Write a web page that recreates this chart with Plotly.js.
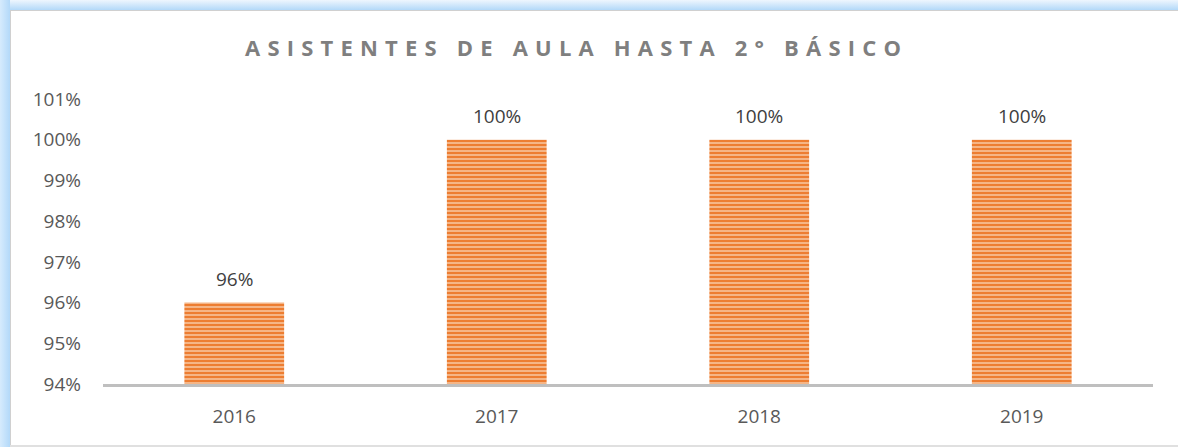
<!DOCTYPE html>
<html><head><meta charset="utf-8">
<script src="https://cdn.plot.ly/plotly-3.0.1.min.js"></script>
<style>
html,body{margin:0;padding:0;background:#fff;}
#wrap{position:relative;width:1178px;height:447px;overflow:hidden;}
#chart{position:absolute;left:0;top:0;width:1178px;height:447px;}
.glowL{position:absolute;left:0;top:0;width:10px;height:447px;background:linear-gradient(to right,#d6ebfd,#b3d9f9);pointer-events:none;}
.glowT{position:absolute;left:0;top:0;width:1178px;height:10px;background:linear-gradient(to bottom,#eef6fe,#b3d9f9);pointer-events:none;}
.lineL{position:absolute;left:10px;top:10px;width:1px;height:437px;background:#d0d0d0;pointer-events:none;}
.lineT{position:absolute;left:10px;top:10px;width:1168px;height:1px;background:#d0d0d0;pointer-events:none;}
.lineB{position:absolute;left:10px;top:445px;width:1168px;height:2px;background:#e0e0e0;pointer-events:none;}
.gtitle{letter-spacing:7.2px;}
</style>
</head><body>
<div id="wrap">
<div id="chart"></div>
<div class="glowT"></div><div class="glowL"></div>
<div class="lineL"></div><div class="lineT"></div><div class="lineB"></div>
</div>
<script>
const categories = ['2016','2017','2018','2019'];
const values = [96, 100, 100, 100];
const labels = ['96%','100%','100%','100%'];
const yTicks = [94,95,96,97,98,99,100,101];
const yTickText = ['94%','95%','96%','97%','98%','99%','100%','101%'];

const FONT = '"Open Sans", sans-serif';
const trace = {
  type:'bar', x:categories, y:values,
  width:0.38,
  marker:{color:'#F7C39B', line:{width:0},
    pattern:{shape:'-', fgcolor:'#ED7D31', bgcolor:'#F7C39B', size:4, solidity:0.6, fillmode:'replace'}},
  hoverinfo:'none'
};
const annotations = values.map((v,i)=>({
  x:i, y:v, xref:'x', yref:'y', text:labels[i], showarrow:false,
  yanchor:'middle', yshift:24,
  font:{family:FONT, size:19, color:'#404040'}
}));
const layout = {
  width:1178, height:447,
  margin:{l:103, r:25, t:99, b:63},
  paper_bgcolor:'rgba(0,0,0,0)', plot_bgcolor:'rgba(0,0,0,0)',
  showlegend:false,
  annotations:annotations,
  title:{text:'<b>ASISTENTES DE AULA HASTA 2° BÁSICO</b>', x:0.4895, xanchor:'center', y:0.893, yanchor:'middle',
    font:{family:FONT, size:22, color:'#7F7F7F'}},
  xaxis:{type:'category', categoryorder:'array', categoryarray:categories, showgrid:false, zeroline:false, showline:true, linecolor:'#BFBFBF', linewidth:3,
    ticks:'', ticklabelstandoff:13,
    tickfont:{family:FONT, size:19, color:'#595959'}},
  yaxis:{range:[94,101], tickvals:yTicks, ticktext:yTickText, showgrid:false, zeroline:false, showline:false,
    ticks:'', ticklabelstandoff:21,
    tickfont:{family:FONT, size:19, color:'#595959'}},
  bargap:0.62
};
Plotly.newPlot('chart',[trace],layout,{displayModeBar:false, staticPlot:true});
</script>
</body></html>
